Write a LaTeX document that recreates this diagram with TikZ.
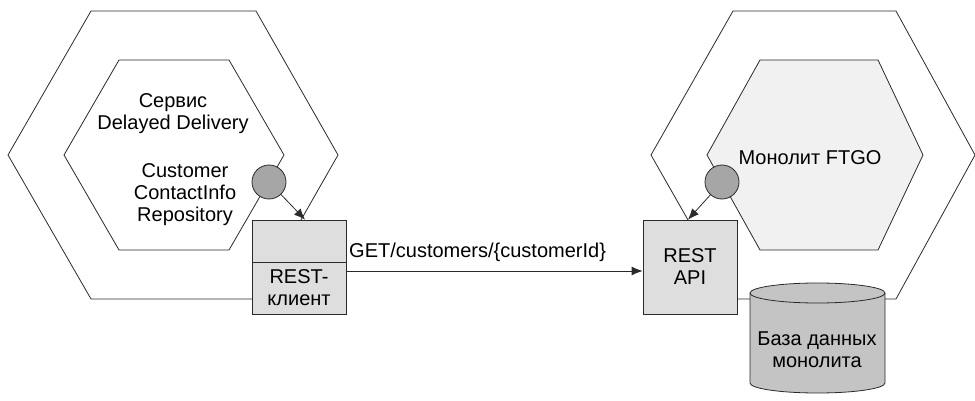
\documentclass[tikz,border=0pt]{standalone}
\usepackage{fontspec}
\setmainfont{Liberation Sans}
\usetikzlibrary{arrows.meta, positioning, shapes.geometric}
\definecolor{lineGray}{HTML}{2A2A2A}
\definecolor{boxTint}{HTML}{DEDEDE}
\definecolor{portGray}{HTML}{A6A6A6}
\definecolor{dbGray}{HTML}{C4C4C4}
\definecolor{monoTint}{HTML}{F1F1F1}

\begin{document}
\begin{tikzpicture}[x=1pt, y=-1pt, font=\fontsize{20}{22}\selectfont,
  hexa/.style={draw=lineGray, line width=0.8pt},
  port/.style={circle, draw=lineGray, line width=0.8pt, fill=portGray,
               minimum size=34pt, inner sep=0pt},
  adapter/.style={draw=lineGray, line width=0.8pt, fill=boxTint, align=center,
                  minimum width=94pt, minimum height=94pt, inner sep=0pt},
  lbl/.style={align=center, inner sep=0pt},
  arr/.style={-{Latex[length=11pt, width=9pt]}, draw=lineGray, line width=0.8pt}]
  \useasboundingbox (0,0) rectangle (975,401);
  % left hexagon: delayed delivery service
  \draw[hexa] (8,155) -- (91,11) -- (256,11) -- (338,155) -- (256,299) -- (91,299) -- cycle;
  \draw[hexa, fill=white] (64,155) -- (119,60) -- (229,60) -- (284,155) -- (229,250) -- (119,250) -- cycle;
  % right hexagon: the monolith
  \draw[hexa] (651,155) -- (733,11) -- (896,11) -- (975,155) -- (896,299) -- (733,299) -- cycle;
  \draw[hexa, fill=monoTint] (707,155) -- (760,60) -- (878,60) -- (923,155) -- (878,250) -- (760,250) -- cycle;

  \node[lbl] (svc) at (173,114) {Сервис\\Delayed Delivery};
  \node[lbl] (repo) at (185,195) {Customer\\ContactInfo\\Repository};
  \node[lbl] (mono) at (810,158) {Монолит FTGO};

  \node[port] (portL) at (269,182) {};
  \node[port] (portR) at (722,182) {};

  % adapters
  \node[adapter] (client) at (299,267) {};
  \draw[lineGray, line width=0.8pt] (client.west |- 0,262) -- (client.east |- 0,262);
  \node[lbl] (clientTxt) at (299,288) {REST-\\клиент};
  \node[adapter] (api) at (690,267) {REST\\API};

  % database drum
  \draw[lineGray, line width=0.8pt, fill=dbGray] (750,293) -- (750,383)
    arc[start angle=180, end angle=360, x radius=67.5pt, y radius=10pt] -- (885,293)
    arc[start angle=0, end angle=180, x radius=67.5pt, y radius=10pt] -- cycle;
  \draw[lineGray, line width=0.8pt] (750,293)
    arc[start angle=180, end angle=360, x radius=67.5pt, y radius=10pt];
  \node[lbl] (db) at (817,350) {База данных\\монолита};

  \draw[arr] (portL) -- (client.north -| 305,0);
  \draw[arr] (portR) -- (api.north -| 688,0);
  \draw[arr] (client.east |- 0,271) -- (api.west |- 0,271);
  \node[lbl, anchor=west] (get) at (349,252) {GET/customers/\{customerId\}};
\end{tikzpicture}
\end{document}
